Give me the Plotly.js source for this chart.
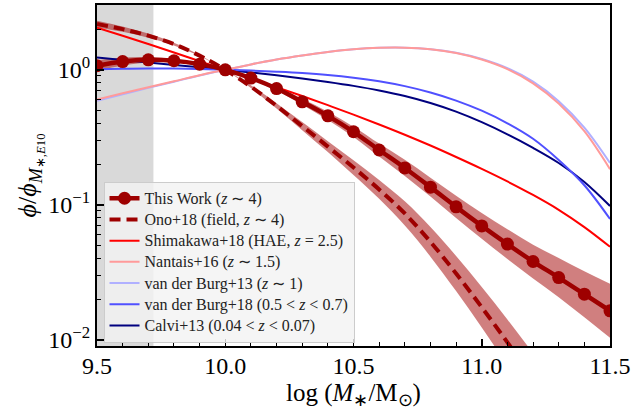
<!DOCTYPE html>
<html>
<head>
<meta charset="utf-8">
<script src="https://cdn.plot.ly/plotly-3.0.1.min.js"></script>
<style>html,body{margin:0;padding:0;background:#fff;}#chart{width:634px;height:410px;}</style>
</head>
<body>
<div id="chart"></div>
<script>
// log10(M*/Msun) grid
const xMass = [9.5, 9.6, 9.7, 9.8, 9.9, 10.0, 10.1, 10.2, 10.3, 10.4, 10.5, 10.6, 10.7, 10.8, 10.9, 11.0, 11.1, 11.2, 11.3, 11.4, 11.5];
const xOno = [9.5, 9.6, 9.7, 9.8, 9.9, 10.0, 10.1, 10.2, 10.3, 10.4, 10.5, 10.6, 10.7, 10.8, 10.9, 11.0, 11.1, 11.2];

// log10(phi/phi_E10)
const logThisWork = [0.030, 0.061, 0.074, 0.067, 0.042, 0.000, -0.061, -0.139, -0.237, -0.341, -0.459, -0.594, -0.727, -0.869, -1.015, -1.156, -1.291, -1.420, -1.539, -1.662, -1.785];
const errThisWork = [0.04, 0.03, 0.02, 0.012, 0.006, 0.0, 0.008, 0.015, 0.022, 0.03, 0.038, 0.048, 0.06, 0.07, 0.082, 0.095, 0.11, 0.125, 0.145, 0.17, 0.2];
const logOno = [0.339, 0.301, 0.253, 0.190, 0.105, 0.000, -0.125, -0.267, -0.417, -0.569, -0.724, -0.886, -1.064, -1.274, -1.509, -1.759, -2.019, -2.289];
const errOno = [0.025, 0.02, 0.015, 0.01, 0.005, 0.0, 0.01, 0.02, 0.03, 0.04, 0.055, 0.07, 0.09, 0.11, 0.13, 0.15, 0.17, 0.19];
const logShimakawa = [0.312, 0.252, 0.191, 0.128, 0.064, 0.000, -0.063, -0.128, -0.194, -0.262, -0.332, -0.405, -0.481, -0.561, -0.646, -0.734, -0.827, -0.927, -1.037, -1.165, -1.311];
const logNantais = [-0.220, -0.174, -0.129, -0.085, -0.040, 0.000, 0.040, 0.076, 0.106, 0.132, 0.152, 0.163, 0.164, 0.152, 0.124, 0.076, 0.005, -0.100, -0.250, -0.455, -0.736];
const logVdB13 = [-0.230, -0.181, -0.134, -0.088, -0.042, 0.000, 0.040, 0.076, 0.106, 0.132, 0.152, 0.163, 0.164, 0.153, 0.126, 0.080, 0.012, -0.088, -0.232, -0.428, -0.690];
const logVdB18 = [0.005, 0.008, 0.010, 0.009, 0.006, 0.000, -0.006, -0.014, -0.024, -0.038, -0.058, -0.085, -0.121, -0.168, -0.228, -0.303, -0.396, -0.511, -0.668, -0.855, -1.105];
const logCalvi = [0.091, 0.073, 0.055, 0.036, 0.018, 0.000, -0.020, -0.041, -0.064, -0.090, -0.119, -0.153, -0.194, -0.246, -0.310, -0.388, -0.478, -0.578, -0.690, -0.831, -1.009];

const seriesNames = [
  'This Work (<i>z</i> ∼ 4)',
  'Ono+18 (field, <i>z</i> ∼ 4)',
  'Shimakawa+18 (HAE, <i>z</i> = 2.5)',
  'Nantais+16 (<i>z</i> ∼ 1.5)',
  'van der Burg+13 (<i>z</i> ∼ 1)',
  'van der Burg+18 (0.5 < <i>z</i> < 0.7)',
  'Calvi+13 (0.04 < <i>z</i> < 0.07)'
];
const completenessLimit = 9.72;
const yMajorTicks = [0.01, 0.1, 1];
const yMajorText = ['10<sup>−2</sup>', '10<sup>−1</sup>', '10<sup>0</sup>'];
const yMinorTicks = [0.02,0.03,0.04,0.05,0.06,0.07,0.08,0.09,0.2,0.3,0.4,0.5,0.6,0.7,0.8,0.9,2,3];
const xTicks = [9.5, 10.0, 10.5, 11.0, 11.5];
const xTickText = ['9.5', '10.0', '10.5', '11.0', '11.5'];

const lin = a => a.map(v => Math.pow(10, v));
const add = (a, e, s) => a.map((v, i) => Math.pow(10, v + s * e[i]));
const big = s => '<span style="font-size:16px">' + s + '</span>';

const DR = '#9e0000';
const BAND = 'rgba(165,10,10,0.52)';
const FONT = 'Liberation Serif, Times New Roman, serif';

const traces = [
  {x: xMass, y: add(logThisWork, errThisWork, -1), mode: 'lines', line: {width: 0, shape: 'spline'}, showlegend: false, hoverinfo: 'skip'},
  {x: xMass, y: add(logThisWork, errThisWork, 1), mode: 'lines', line: {width: 0, shape: 'spline'}, fill: 'tonexty', fillcolor: BAND, showlegend: false, hoverinfo: 'skip'},
  {x: xOno, y: add(logOno, errOno, -1), mode: 'lines', line: {width: 0, shape: 'spline'}, showlegend: false, hoverinfo: 'skip'},
  {x: xOno, y: add(logOno, errOno, 1), mode: 'lines', line: {width: 0, shape: 'spline'}, fill: 'tonexty', fillcolor: BAND, showlegend: false, hoverinfo: 'skip'},
  {x: xMass, y: lin(logCalvi), name: big(seriesNames[6]), legendrank: 7, mode: 'lines', line: {color: '#00007f', width: 2, shape: 'spline'}},
  {x: xMass, y: lin(logVdB18), name: big(seriesNames[5]), legendrank: 6, mode: 'lines', line: {color: '#5050ff', width: 2, shape: 'spline'}},
  {x: xMass, y: lin(logVdB13), name: big(seriesNames[4]), legendrank: 5, mode: 'lines', line: {color: '#b0b0ff', width: 2, shape: 'spline'}},
  {x: xMass, y: lin(logNantais), name: big(seriesNames[3]), legendrank: 4, mode: 'lines', line: {color: '#ff9a9a', width: 2, shape: 'spline'}},
  {x: xMass, y: lin(logShimakawa), name: big(seriesNames[2]), legendrank: 3, mode: 'lines', line: {color: '#ff0000', width: 2, shape: 'spline'}},
  {x: xOno, y: lin(logOno), name: big(seriesNames[1]), legendrank: 2, mode: 'lines', line: {color: DR, width: 4, dash: '11px,6px', shape: 'spline'}},
  {x: xMass, y: lin(logThisWork), name: big(seriesNames[0]), legendrank: 1, mode: 'lines+markers', line: {color: DR, width: 4.5, shape: 'spline'}, marker: {color: DR, size: 13}}
];

const layout = {
  width: 634, height: 410,
  margin: {l: 97, r: 24, t: 5, b: 64},
  paper_bgcolor: '#ffffff', plot_bgcolor: '#ffffff',
  font: {family: FONT, color: '#000'},
  showlegend: true,
  legend: {
    x: 0.0127, y: 0.482, xanchor: 'left', yanchor: 'top',
    traceorder: 'normal',
    bgcolor: 'rgba(243,243,243,0.82)', bordercolor: '#cccccc', borderwidth: 1,
    font: {family: FONT, size: 14, color: '#222'},
    tracegroupgap: 0, itemwidth: 30
  },
  xaxis: {
    range: [9.5, 11.5], showgrid: false, zeroline: false,
    tickmode: 'array', tickvals: xTicks, ticktext: xTickText,
    ticks: 'inside', ticklen: 7, tickwidth: 1.5, tickcolor: '#000',
    ticklabelstandoff: -3,
    minor: {dtick: 0.1, ticks: 'inside', ticklen: 4, tickwidth: 1, tickcolor: '#000', showgrid: false},
    showline: true, linewidth: 2, linecolor: '#000', mirror: true,
    tickfont: {family: FONT, size: 24},
    title: {text: 'log (<i>M</i><sub>∗</sub>/M<sub>⊙</sub>)', font: {family: FONT, size: 25}, standoff: 5}
  },
  yaxis: {
    type: 'log', range: [Math.log10(0.009), Math.log10(3.02)], showgrid: false, zeroline: false,
    tickmode: 'array', tickvals: yMajorTicks, ticktext: yMajorText,
    ticks: 'inside', ticklen: 7, tickwidth: 1.5, tickcolor: '#000',
    minor: {tickmode: 'array', tickvals: yMinorTicks, ticks: 'inside', ticklen: 4, tickwidth: 1, tickcolor: '#000', showgrid: false},
    showline: true, linewidth: 2, linecolor: '#000', mirror: true,
    tickfont: {family: FONT, size: 24},
    title: {text: '<i>ϕ</i>/<i>ϕ</i><sub><i>M</i><sub>∗,<i>E</i>10</sub></sub>', font: {family: FONT, size: 26}, standoff: 4}
  },
  shapes: [{type: 'rect', xref: 'x', yref: 'paper', x0: 9.5, x1: completenessLimit, y0: 0, y1: 1, fillcolor: '#d9d9d9', line: {width: 0}, layer: 'below'}]
};

Plotly.newPlot('chart', traces, layout, {displayModeBar: false, staticPlot: true});
</script>
</body>
</html>
